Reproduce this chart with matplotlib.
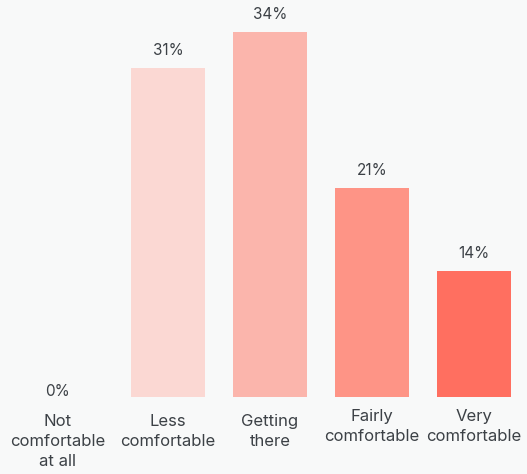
import matplotlib.pyplot as plt
import numpy as np

plt.rcParams["font.family"] = ["Inter", "DejaVu Sans"]

categories = ["Not\ncomfortable\nat all", "Less\ncomfortable", "Getting\nthere",
              "Fairly\ncomfortable", "Very\ncomfortable"]
values = [0, 31, 34, 21, 14]
value_labels = ["0%", "31%", "34%", "21%", "14%"]
colors = ["#FBD8D3", "#FBD8D3", "#FBB5AC", "#FE9486", "#FF6F60"]
label_drop = [17, 17, 17, 12, 12]   # px below baseline for category labels

BG = "#F8F9F9"
TXT = "#3C4146"

W, H = 527, 474
fig = plt.figure(figsize=(W / 100, H / 100), dpi=100, facecolor=BG)
# axes: x 15..525 px, y baseline at 397 px from top, up to top edge
ax = fig.add_axes([15 / W, (H - 397) / H, 510 / W, 397 / H])
ax.set_facecolor(BG)

x = np.arange(len(categories))
ax.bar(x, values, width=0.735, color=colors)
ax.set_xlim(-0.5, len(categories) - 0.5)
# the source chart's value axis does not start exactly at zero
ybot = 3.5
ax.set_ylim(ybot, ybot + 397 / 11.97)

for xi, v, lab in zip(x, values, value_labels):
    if v > 0:
        ax.annotate(lab, xy=(xi, v), xytext=(0, 10), textcoords="offset pixels",
                    ha="center", va="bottom", fontsize=11, color=TXT)
    else:
        ax.annotate(lab, xy=(xi - 0.08, 0), xycoords=("data", "axes fraction"),
                    xytext=(0, -2), textcoords="offset pixels",
                    ha="center", va="bottom", fontsize=11, color=TXT)

for xi, cat, d in zip(x, categories, label_drop):
    if xi == 0:
        xi = xi - 0.08
    ax.annotate(cat, xy=(xi, 0), xycoords=("data", "axes fraction"),
                xytext=(0, -d), textcoords="offset pixels",
                ha="center", va="top", fontsize=12, color=TXT,
                linespacing=1.42, annotation_clip=False)

ax.axis("off")
fig.savefig("out.png", dpi=100, facecolor=BG)
